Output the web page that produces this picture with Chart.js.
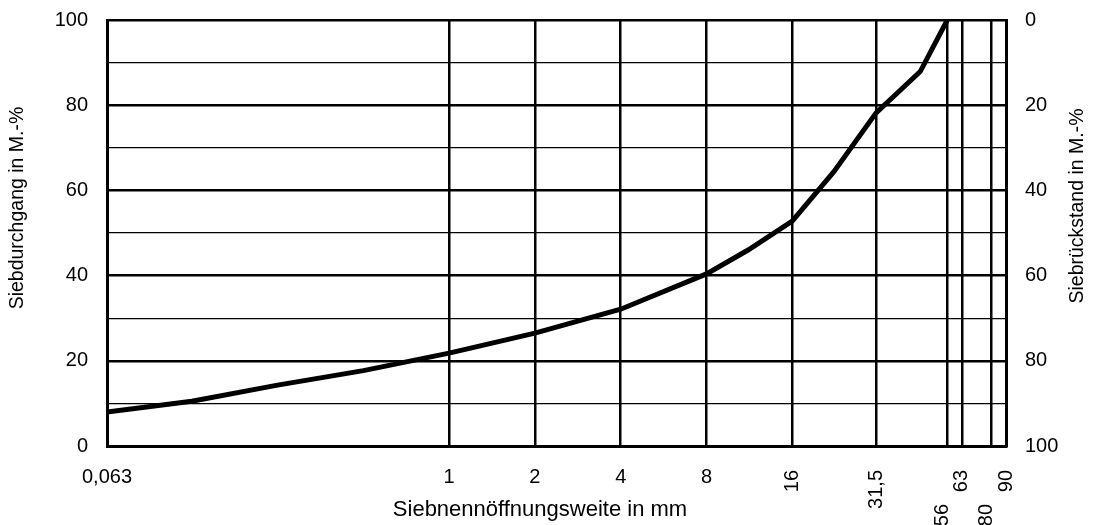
<!DOCTYPE html>
<html>
<head>
<meta charset="utf-8">
<script src="https://cdn.jsdelivr.net/npm/chart.js@4.4.1/dist/chart.umd.min.js"></script>
<style>
  html, body { margin: 0; padding: 0; background: #fff; }
  #wrap { width: 1093px; height: 525px; position: relative; }
</style>
</head>
<body>
<div id="wrap"><canvas id="sieveChart"></canvas></div>
<script>
// sieve sizes (mm) and passing values (M.-%)
const sieveSizes = [0.063, 0.125, 0.25, 0.5, 1, 2, 4, 8, 11.2, 16, 22.4, 31.5, 45, 56];
const passing = [8, 10.5, 14.3, 17.7, 21.8, 26.5, 32.1, 40.4, 46, 52.8, 64.4, 78.2, 87.9, 100];

// x axis ticks (log scale), labels use German decimal comma
const xTickValues = [0.063, 1, 2, 4, 8, 16, 31.5, 56, 63, 80, 90];
const xTickLabels = ['0,063', '1', '2', '4', '8', '16', '31,5', '56', '63', '80', '90'];
const rotatedLabels = ['16', '31,5', '56', '63', '80', '90'];
const lowerRowLabels = ['56', '80'];

const xTitle = 'Siebnennöffnungsweite in mm';
const yLeftTitle = 'Siebdurchgang in M.-%';
const yRightTitle = 'Siebrückstand in M.-%';

const FAMILY = '"Liberation Sans", Arial, sans-serif';

const labelPlugin = {
    id: 'sieveLabels',
    afterDraw(chart) {
        const ctx = chart.ctx;
        const xScale = chart.scales.x;
        ctx.save();
        ctx.fillStyle = '#000';
        ctx.font = '20px ' + FAMILY;
        ctx.textBaseline = 'middle';

        xTickValues.forEach((v, i) => {
            const label = xTickLabels[i];
            const px = xScale.getPixelForValue(v);
            if (rotatedLabels.includes(label)) {
                const lower = lowerRowLabels.includes(label);
                ctx.save();
                ctx.translate(lower ? px - 5 : px, lower ? 504 : 470);
                ctx.rotate(-Math.PI / 2);
                ctx.textAlign = 'right';
                ctx.fillText(label, 0, 0);
                ctx.restore();
            } else {
                ctx.textAlign = 'center';
                ctx.fillText(label, px, 477);
            }
        });

        // axis titles
        ctx.textAlign = 'center';
        ctx.font = '22px ' + FAMILY;
        ctx.fillText(xTitle, 540, 510);

        ctx.font = '19.5px ' + FAMILY;
        ctx.save();
        ctx.translate(18, 208);
        ctx.rotate(-Math.PI / 2);
        ctx.fillText(yLeftTitle, 0, 0);
        ctx.restore();

        ctx.save();
        ctx.translate(1078, 206);
        ctx.rotate(-Math.PI / 2);
        ctx.fillText(yRightTitle, 0, 0);
        ctx.restore();

        ctx.restore();
    }
};

Chart.defaults.font.family = FAMILY;
Chart.defaults.font.size = 20;
Chart.defaults.color = '#000';

new Chart(document.getElementById('sieveChart'), {
    type: 'line',
    data: {
        datasets: [{
            data: sieveSizes.map((s, i) => ({ x: s, y: passing[i] })),
            borderColor: '#000',
            borderWidth: 5,
            pointRadius: 0,
            tension: 0,
            fill: false,
            clip: 0
        }]
    },
    options: {
        responsive: true,
        maintainAspectRatio: false,
        animation: false,
        layout: { padding: { top: 20, left: 0, right: 0, bottom: 0 } },
        plugins: {
            legend: { display: false },
            tooltip: { enabled: false }
        },
        scales: {
            x: {
                type: 'logarithmic',
                min: 0.063,
                max: 90,
                afterBuildTicks: (scale) => {
                    scale.ticks = xTickValues.map(v => ({ value: v }));
                },
                afterFit: (scale) => {
                    scale.height = 79;
                    scale.paddingLeft = 0;
                    scale.paddingRight = 0;
                },
                ticks: { display: false },
                grid: { color: '#000', lineWidth: 2.5, drawTicks: false },
                border: { color: '#000', width: 3 }
            },
            y: {
                position: 'left',
                min: 0,
                max: 100,
                afterFit: (scale) => {
                    scale.width = 107;
                    scale.paddingTop = 0;
                    scale.paddingBottom = 0;
                },
                ticks: {
                    stepSize: 10,
                    autoSkip: false,
                    padding: 19,
                    callback: (v) => (v % 20 === 0 ? v : '')
                },
                grid: {
                    color: '#000',
                    drawTicks: false,
                    lineWidth: (c) => (c.tick.value % 20 === 0 ? 2.5 : 1.2)
                },
                border: { color: '#000', width: 3 }
            },
            y2: {
                position: 'right',
                min: 0,
                max: 100,
                reverse: true,
                afterFit: (scale) => {
                    scale.width = 87;
                    scale.paddingTop = 0;
                    scale.paddingBottom = 0;
                },
                ticks: { stepSize: 20, padding: 19 },
                grid: { display: false, drawTicks: false },
                border: { color: '#000', width: 3 }
            }
        }
    },
    plugins: [labelPlugin]
});
</script>
</body>
</html>
